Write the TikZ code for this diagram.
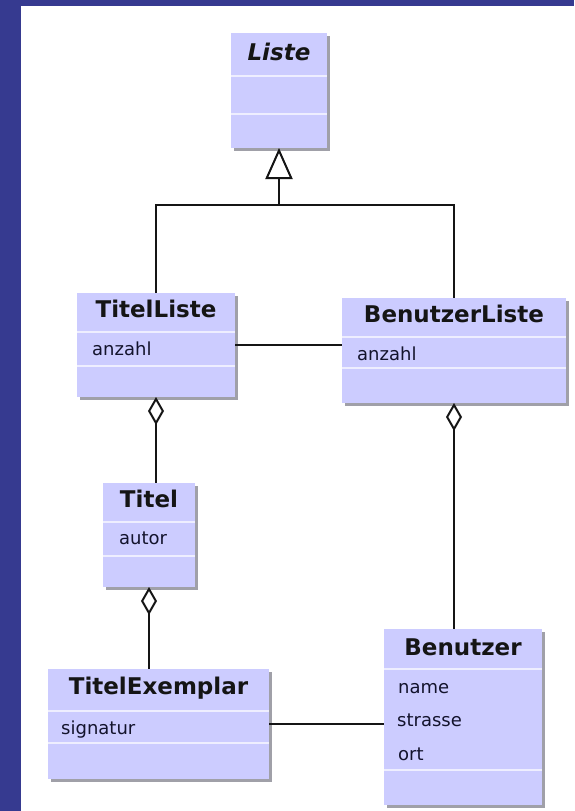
\documentclass[tikz,border=0pt]{standalone}
\usepackage{fontspec}
\setmainfont{DejaVu Sans}
\usetikzlibrary{arrows.meta,shadows}

\definecolor{framebl}{HTML}{363A90}
\definecolor{classfill}{HTML}{CCCCFF}
\definecolor{sepcol}{HTML}{EEEEFF}
\definecolor{shadowcol}{HTML}{A0A0A8}
\definecolor{inkcol}{HTML}{151515}

\tikzset{
  classbox/.style={rectangle, fill=classfill, draw=none, inner sep=0pt, outer sep=0pt,
    drop shadow={shadow xshift=2.5pt, shadow yshift=-2.5pt, fill=shadowcol, opacity=1}},
  sepline/.style={draw=sepcol, line width=1.6pt},
  classname/.style={anchor=base, inner sep=0pt, text=inkcol,
    font=\fontsize{23}{23}\selectfont\bfseries},
  attr/.style={anchor=base west, inner sep=0pt, text=inkcol!90!blue,
    font=\fontsize{18}{18}\selectfont},
  link/.style={draw=inkcol, line width=2pt},
  aggr/.style={link, {Diamond[open,length=28pt,width=16pt]}-},
  inherit/.style={link, -{Triangle[open,length=31pt,width=27pt]}}
}

\begin{document}
\begin{tikzpicture}[x=1pt,y=-1pt]
  \useasboundingbox (0,0) rectangle (574,811);
  \fill[white] (0,0) rectangle (574,811);
  % blue frame on the left and top
  \fill[framebl] (0,0) rectangle (21,811);
  \fill[framebl] (0,0) rectangle (574,6);

  % class boxes
  \node[classbox, minimum width=96pt,  minimum height=115pt] (li) at (279,90.5) {};
  \node[classbox, minimum width=158pt, minimum height=104pt] (tl) at (156,345) {};
  \node[classbox, minimum width=224pt, minimum height=105pt] (bl) at (454,350.5) {};
  \node[classbox, minimum width=92pt,  minimum height=104pt] (ti) at (149,535) {};
  \node[classbox, minimum width=221pt, minimum height=110pt] (te) at (158.5,724) {};
  \node[classbox, minimum width=158pt, minimum height=176pt] (be) at (463,717) {};

  % compartment separators
  \foreach \b/\ya/\yb in {li/76/114, tl/332/366, bl/337/368, ti/522/556, te/711/743, be/669/770}{
    \draw[sepline] (\b.west |- 0,\ya) -- (\b.east |- 0,\ya);
    \draw[sepline] (\b.west |- 0,\yb) -- (\b.east |- 0,\yb);
  }

  % class names
  \node[classname, font=\fontsize{23}{23}\selectfont\bfseries\itshape] (li-n) at (279,60) {Liste};
  \node[classname] (tl-n) at (156,317) {TitelListe};
  \node[classname] (bl-n) at (454,322) {BenutzerListe};
  \node[classname] (ti-n) at (149,507) {Titel};
  \node[classname] (te-n) at (158.5,694) {TitelExemplar};
  \node[classname] (be-n) at (463,655) {Benutzer};

  % attributes
  \node[attr] (tl-a) at (92,355) {anzahl};
  \node[attr] (bl-a) at (357,360) {anzahl};
  \node[attr] (ti-a) at (119,544) {autor};
  \node[attr] (te-a) at (61,734) {signatur};
  \node[attr] (be-a1) at (398,693) {name};
  \node[attr] (be-a2) at (397,726) {strasse};
  \node[attr] (be-a3) at (398,760) {ort};

  % generalization
  \coordinate (jc) at (279,205);
  \draw[link] (tl.north) |- (jc) -| (bl.north);
  \draw[inherit] (jc) -- (li.south);

  % aggregations
  \draw[aggr] (tl.south) -- (tl.south |- ti.north);
  \draw[aggr] (ti.south) -- (ti.south |- te.north);
  \draw[aggr] (bl.south) -- (bl.south |- be.north);

  % associations
  \draw[link] (tl.east) -- (tl.east -| bl.west);
  \draw[link] (te.east) -- (te.east -| be.west);
\end{tikzpicture}
\end{document}
